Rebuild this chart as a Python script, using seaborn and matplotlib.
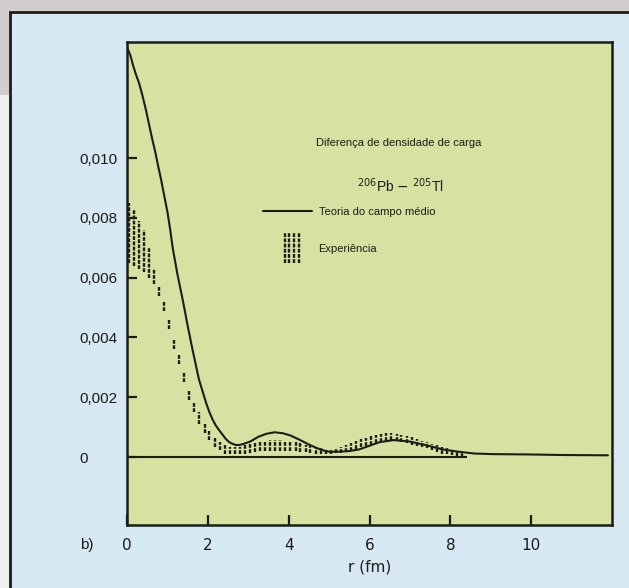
import numpy as np
import pandas as pd
import seaborn as sns
import matplotlib.pyplot as plt
from matplotlib.patches import Rectangle
from matplotlib.lines import Line2D
from matplotlib.legend_handler import HandlerBase

# theory curve (mean field)
theory_r = [0.0, 0.08, 0.15, 0.22, 0.3, 0.38, 0.47, 0.55, 0.63, 0.7, 0.76, 0.84, 0.92, 1.0,
            1.07, 1.13, 1.25, 1.38, 1.5, 1.62, 1.7, 1.78, 1.87, 1.96, 2.04, 2.12, 2.2, 2.28,
            2.37, 2.45, 2.52, 2.6, 2.68, 2.75, 2.83, 2.9, 3.05, 3.25, 3.45, 3.65, 3.85,
            4.05, 4.27, 4.5, 4.7, 4.85, 5.0, 5.2, 5.5, 5.75, 6.0, 6.25, 6.6, 7.0, 7.4,
            7.8, 8.2, 8.6, 9.05, 9.9, 10.8, 11.9]
theory_rho = [0.0137, 0.01345, 0.0131, 0.0128, 0.0125, 0.0121, 0.0116, 0.0111, 0.0106,
              0.0102, 0.0098, 0.0093, 0.00875, 0.0082, 0.0076, 0.0070, 0.0061, 0.00525,
              0.0044, 0.0036, 0.0031, 0.0026, 0.0022, 0.0018, 0.0015, 0.00125, 0.00105,
              0.0009, 0.00074, 0.0006, 0.00051, 0.00045, 0.00041, 0.0004, 0.00042, 0.00045,
              0.00052, 0.00068, 0.00078, 0.00083, 0.0008, 0.00072, 0.00058, 0.00042, 0.0003,
              0.00023, 0.00018, 0.00018, 0.0002, 0.00026, 0.00038, 0.0005, 0.00057, 0.00052,
              0.0004, 0.00026, 0.00018, 0.00012, 0.0001, 0.00009, 0.00007, 0.00006]

# experimental error band, one dashed bar per r
exp_r = [0.04, 0.17, 0.29, 0.42, 0.54, 0.67, 0.79, 0.92, 1.04, 1.17, 1.29, 1.42, 1.54,
         1.67, 1.79, 1.92, 2.04, 2.17, 2.29, 2.42, 2.54, 2.67, 2.79, 2.92, 3.04, 3.17,
         3.29, 3.42, 3.54, 3.67, 3.79, 3.92, 4.04, 4.17, 4.29, 4.42, 4.54, 4.67, 4.79,
         4.92, 5.04, 5.17, 5.29, 5.42, 5.54, 5.67, 5.79, 5.92, 6.04, 6.17, 6.29, 6.42,
         6.54, 6.67, 6.79, 6.92, 7.04, 7.17, 7.29, 7.42, 7.54, 7.67, 7.79, 7.92, 8.04,
         8.17, 8.29]
exp_lo = [0.0065, 0.0064, 0.0063, 0.0062, 0.0060, 0.0058, 0.0054, 0.0049, 0.0043, 0.0036,
          0.0031, 0.0025, 0.0019, 0.0015, 0.0011, 0.0008, 0.00057, 0.00033, 0.00023, 0.0001,
          0.0001, 0.0001, 0.0001, 0.00012, 0.00015, 0.00018, 0.0002, 0.0002, 0.0002, 0.0002,
          0.0002, 0.0002, 0.0002, 0.0002, 0.00018, 0.00016, 0.00014, 0.00012, 0.00012, 0.00012,
          0.00012, 0.00013, 0.00014, 0.00016, 0.0002, 0.00028, 0.00034, 0.00036, 0.0004, 0.00047,
          0.0005, 0.00054, 0.00056, 0.00055, 0.00052, 0.00046, 0.00042, 0.00038, 0.00033, 0.0003,
          0.00024, 0.00018, 0.00012, 0.0001, 0.00006, 0.00004, 0.00002]
exp_hi = [0.0085, 0.0083, 0.0079, 0.0076, 0.0070, 0.0063, 0.0057, 0.0052, 0.0046, 0.0039,
          0.0034, 0.0028, 0.0022, 0.0018, 0.0015, 0.0011, 0.0009, 0.00067, 0.0005, 0.0004,
          0.00035, 0.00033, 0.00035, 0.0004, 0.00045, 0.0005, 0.00053, 0.00055, 0.00057, 0.00057,
          0.00056, 0.00055, 0.00053, 0.0005, 0.00046, 0.00042, 0.00038, 0.00034, 0.0003, 0.00026,
          0.00024, 0.00028, 0.00034, 0.0004, 0.00047, 0.00054, 0.0006, 0.00065, 0.0007, 0.00075,
          0.00078, 0.0008, 0.0008, 0.00078, 0.00075, 0.0007, 0.00066, 0.0006, 0.00055, 0.0005,
          0.00045, 0.0004, 0.00034, 0.0003, 0.00025, 0.0002, 0.00016]

y_ticks = [0, 0.002, 0.004, 0.006, 0.008, 0.010]
y_labels = ['0', '0,002', '0,004', '0,006', '0,008', '0,010']
x_ticks = [0, 2, 4, 6, 8, 10]
zero_line_end = 8.4

theory = pd.DataFrame({'r': theory_r, 'rho': theory_rho})

sns.set_style('ticks')
plt.rcParams['font.family'] = ['Liberation Sans', 'DejaVu Sans']

INK = '#1c1c18'
DASH = (0, (1.6, 0.6))


class ExpHandler(HandlerBase):
    # four little dashed bars, taller than the text row, like the printed key
    def create_artists(self, legend, orig_handle, xdescent, ydescent, width, height,
                       fontsize, trans):
        mid = (height - ydescent) / 2
        half = 1.35 * fontsize
        arts = []
        for f in [0.44, 0.54, 0.64, 0.74]:
            x = -xdescent + f * width
            ln = Line2D([x, x], [mid - half, mid + half], color=INK, lw=1.7,
                        linestyle=DASH, transform=trans)
            arts.append(ln)
        return arts


fig = plt.figure(figsize=(6.29, 5.88), dpi=100)
fig.patch.set_facecolor('#d3cccf')
fig.patches.append(Rectangle((0, 0), 10 / 629, (588 - 95) / 588, transform=fig.transFigure,
                             facecolor='#eef1ef', edgecolor='none', zorder=-10))
fig.patches.append(Rectangle((10 / 629, -0.01), 1.0, (588 - 12) / 588 + 0.01,
                             transform=fig.transFigure, facecolor='#d6e8f2',
                             edgecolor=INK, lw=2, zorder=-10))

ax = fig.add_axes([127 / 629, 1 - 525 / 588, (612 - 127) / 629, (525 - 42) / 588])
ax.set_zorder(5)
ax.set_facecolor('#d5e2a2')

sns.lineplot(data=theory, x='r', y='rho', ax=ax, color=INK, lw=1.5, zorder=4)
exp_bars = ax.vlines(exp_r, exp_lo, exp_hi, colors=INK, linewidth=1.7,
                     linestyles=[DASH], zorder=3)
ax.hlines(0, 0, zero_line_end, colors=INK, lw=1.5, zorder=2)

ax.set_xlim(0, 12)
ax.set_ylim(-0.00227, 0.01388)
ax.set_xticks(x_ticks)
ax.set_yticks(y_ticks)
ax.set_yticklabels(y_labels)
ax.tick_params(axis='both', direction='in', length=7, width=1.6, color=INK, labelsize=11,
               labelcolor=INK)
ax.tick_params(axis='y', pad=34)
for lab in ax.get_yticklabels():
    lab.set_horizontalalignment('left')
ax.tick_params(axis='x', pad=9)
for lab in ax.get_xticklabels():
    lab.set_fontfamily('DejaVu Sans')
for s in ax.spines.values():
    s.set_visible(True)
    s.set_color(INK)
    s.set_linewidth(1.8)

ax.set_xlabel('r (fm)', fontsize=11, color=INK, labelpad=5, fontfamily='DejaVu Sans')
ax.set_ylabel('')

ax.text(0.56, 0.79, 'Diferença de densidade de carga', transform=ax.transAxes,
        ha='center', va='center', fontsize=8, color=INK)
ax.text(0.565, 0.703, r'$^{206}$Pb $-$ $^{205}$Tl', transform=ax.transAxes,
        ha='center', va='center', fontsize=10, color=INK)

handles = [Line2D([], [], color=INK, lw=1.5), exp_bars]
ax.legend(handles, ['Teoria do campo médio', 'Experiência'],
          handler_map={type(exp_bars): ExpHandler()},
          loc='upper left', bbox_to_anchor=((263 - 127) / 485, (525 - 207) / 483),
          frameon=False, fontsize=8, handlelength=4.4, handleheight=0.7,
          handletextpad=0.6, labelspacing=2.45, borderpad=0, borderaxespad=0,
          labelcolor=INK)

fig.text(80 / 629, 1 - 545 / 588, 'b)', fontsize=11, color=INK, ha='left', va='center')

fig.savefig('out.png', dpi=100)
